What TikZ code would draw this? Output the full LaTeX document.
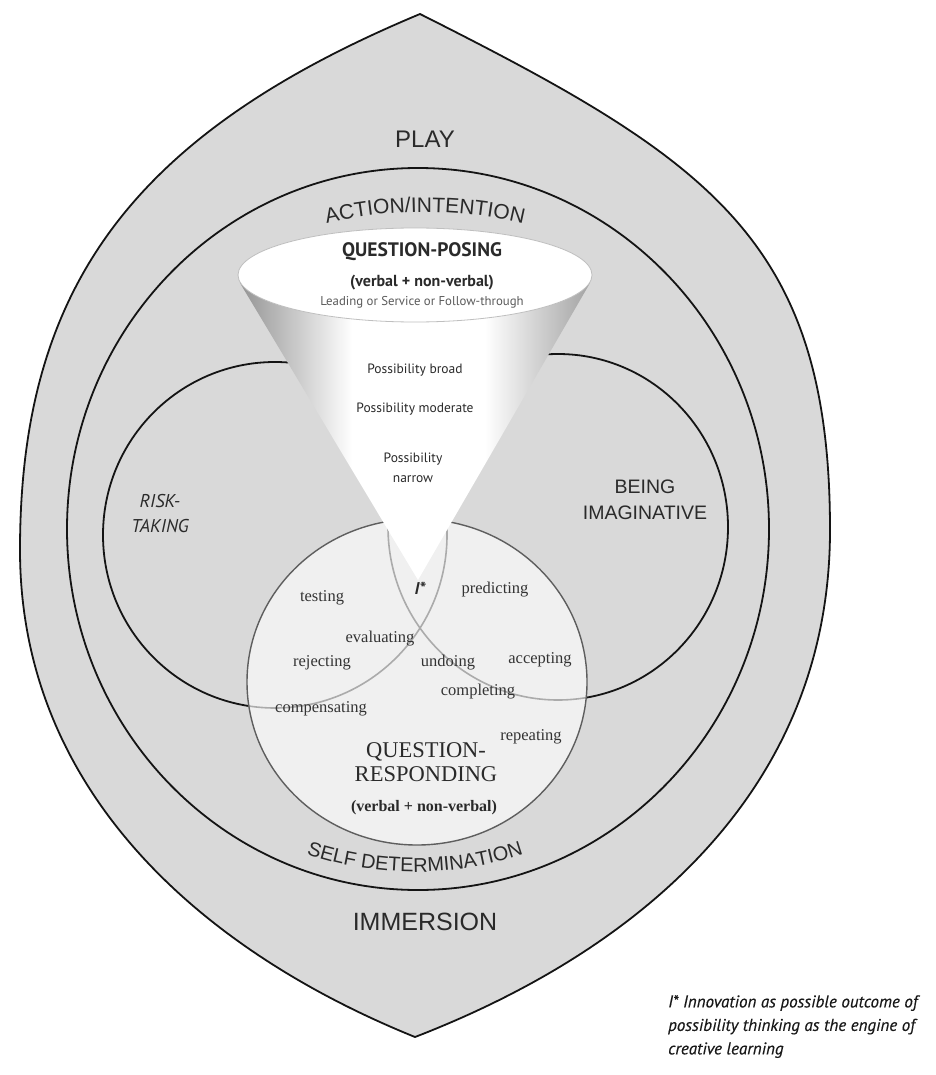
\documentclass[tikz,border=0pt]{standalone}
\usepackage{fontspec}
\usetikzlibrary{decorations.text}
\newfontfamily\arialf{Liberation Sans}
\newfontfamily\humanf{PT Sans}
\newfontfamily\notef{PT Sans Italic}[FakeBold=0.35]
\newfontfamily\bookf{Liberation Serif}
\definecolor{ringgray}{HTML}{D9D9D9}
\definecolor{discfill}{HTML}{F0F0F0}
\definecolor{inkgray}{HTML}{2A2A2A}
\definecolor{discline}{HTML}{5E5E5E}
\definecolor{faintline}{HTML}{ABABAB}
\definecolor{softink}{HTML}{5A5A5A}
% funnel body: grey rims, white centre
\pgfdeclarehorizontalshading{funnelshade}{100bp}{color(0bp)=(black!42); color(25bp)=(black!42); color(41bp)=(white); color(60bp)=(white); color(75bp)=(black!36); color(100bp)=(black!36)}
\begin{document}
\begin{tikzpicture}[x=1pt,y=-1pt,
  border/.style={draw=black!92, line width=1.8pt},
  lbl/.style={text=inkgray, inner sep=0pt},
  outerlbl/.style={lbl, font=\arialf\fontsize{24}{28}\selectfont},
  conelbl/.style={lbl, font=\humanf\fontsize{13.5}{20}\selectfont, align=center},
  word/.style={lbl, text=black!80, font=\bookf\fontsize{16.5}{19}\selectfont}]
\useasboundingbox (0,0) rectangle (935,1075);

% outer shield
\path[fill=ringgray, border]
  (420,14) .. controls (130,135) and (20,290) .. (20,550)
  .. controls (20,790) and (200,950) .. (415,1037)
  .. controls (640,950) and (830,790) .. (830,530)
  .. controls (830,240) and (710,160) .. cycle;

% middle ring
\draw[border] (418,529) ellipse[x radius=351, y radius=361];

% the two inner ovals
\draw[border] (275,535) ellipse[x radius=172, y radius=173];
\draw[border] (558,527) ellipse[x radius=170, y radius=173];

% responding disc
\fill[discfill] (417,682) ellipse[x radius=170, y radius=163];
\begin{scope}
  \clip (417,682) ellipse[x radius=170, y radius=163];
  \draw[faintline, line width=1.6pt] (275,535) ellipse[x radius=172, y radius=173];
  \draw[faintline, line width=1.6pt] (558,527) ellipse[x radius=170, y radius=173];
\end{scope}
\draw[discline, line width=1.4pt] (417,682) ellipse[x radius=170, y radius=163];

% funnel
\path[shading=funnelshade] (240,283) -- (418,580) -- (590,283) -- cycle;
\path[fill=white, draw=black!25, line width=0.8pt] (415,275) ellipse[x radius=177, y radius=47];

% curved ring labels
\path[decorate, decoration={text along path, text align=center, text color=inkgray,
  text={|\arialf\fontsize{21}{25}\selectfont|ACTION/INTENTION}}]
  (425,529) ++(240:370 and 317) arc[start angle=240, end angle=300, x radius=370, y radius=317];
\path[decorate, decoration={text along path, text align=center, text color=inkgray,
  text={|\arialf\fontsize{20}{25}\selectfont|SELF DETERMINATION}}]
  (415,529) ++(122:340 and 343) arc[start angle=122, end angle=58, x radius=340, y radius=343];

% outer labels
\node[outerlbl] (play) at (425,139) {PLAY};
\node[outerlbl, font=\arialf\fontsize{25}{28}\selectfont] (immersion) at (425,922) {IMMERSION};

% question posing
\node[lbl, font=\humanf\bfseries\fontsize{19.5}{22}\selectfont] (qpose) at (422,252) {QUESTION-POSING};
\node[lbl, font=\humanf\bfseries\fontsize{16}{19}\selectfont] (qposesub) at (422,283) {(verbal + non-verbal)};
\node[lbl, text=softink, font=\humanf\fontsize{12.8}{15}\selectfont] (modes) at (422,302) {Leading or Service or Follow-through};
\node[conelbl] (broad) at (415,370) {Possibility broad};
\node[conelbl] (moderate) at (415,409) {Possibility moderate};
\node[conelbl] (narrow) at (413,468) {Possibility\\narrow};

% oval labels
\node[lbl, align=center, font=\humanf\itshape\fontsize{18.5}{25}\selectfont] (risk) at (160,514) {RISK-\\TAKING};
\node[lbl, align=center, font=\arialf\fontsize{19.5}{26}\selectfont] (imag) at (645,500) {BEING\\IMAGINATIVE};

% innovation mark
\node[lbl, font=\humanf\bfseries\itshape\fontsize{17}{20}\selectfont] (istar) at (420,588) {I*};

% responding actions
\node[word] (testing) at (322,598) {testing};
\node[word] (predicting) at (495,590) {predicting};
\node[word] (evaluating) at (380,639) {evaluating};
\node[word] (rejecting) at (322,663) {rejecting};
\node[word] (undoing) at (448,663) {undoing};
\node[word] (accepting) at (540,660) {accepting};
\node[word] (completing) at (478,692) {completing};
\node[word] (compensating) at (321,709) {compensating};
\node[word] (repeating) at (531,737) {repeating};

\node[lbl, align=center, font=\bookf\fontsize{22.5}{24}\selectfont] (qresp) at (426,762) {QUESTION-\\RESPONDING};
\node[lbl, font=\bookf\bfseries\fontsize{16}{19}\selectfont] (qrespsub) at (424,808) {(verbal + non-verbal)};

% footnote
\node[lbl, anchor=north west, align=left, text=black!90, font=\notef\fontsize{17}{23.5}\selectfont] (note) at (668,995)
  {I* Innovation as possible outcome of\\possibility thinking as the engine of\\creative learning};
\end{tikzpicture}
\end{document}
